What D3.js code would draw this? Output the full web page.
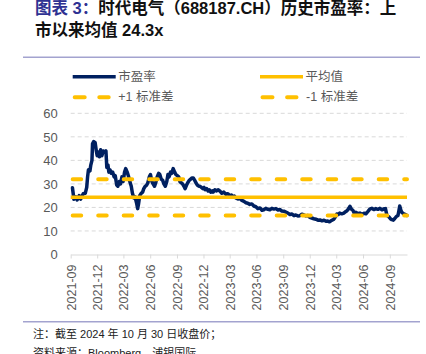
<!DOCTYPE html>
<html>
<head>
<meta charset="utf-8">
<script src="https://cdn.jsdelivr.net/npm/d3@7"></script>
<style>
  body { margin: 0; background: #fff; }
  text { font-family: "Liberation Sans", "Noto Sans CJK SC", sans-serif; }
</style>
</head>
<body>
<div id="chart"></div>
<script>
// 时代电气 历史市盈率
const peDates = [
  "2021-09-07","2021-09-10","2021-09-12","2021-09-19","2021-09-23","2021-09-30","2021-10-05","2021-10-14",
  "2021-10-21","2021-10-26","2021-10-29","2021-11-01","2021-11-06","2021-11-09","2021-11-13","2021-11-15",
  "2021-11-19","2021-11-24","2021-11-28","2021-12-01","2021-12-06","2021-12-09","2021-12-13","2021-12-17",
  "2021-12-22","2021-12-27","2021-12-31","2022-01-03","2022-01-07","2022-01-10","2022-01-14","2022-01-18",
  "2022-01-23","2022-01-28","2022-02-01","2022-02-06","2022-02-10","2022-02-15","2022-02-19","2022-02-24",
  "2022-02-28","2022-03-05","2022-03-09","2022-03-14","2022-03-19","2022-03-23","2022-03-28","2022-04-01",
  "2022-04-06","2022-04-10","2022-04-15","2022-04-19","2022-04-22","2022-04-26","2022-05-01","2022-05-06",
  "2022-05-10","2022-05-15","2022-05-20","2022-05-24","2022-05-29","2022-06-02","2022-06-07","2022-06-11",
  "2022-06-16","2022-06-20","2022-06-25","2022-06-30","2022-07-04","2022-07-09","2022-07-14","2022-07-18",
  "2022-07-23","2022-07-28","2022-08-01","2022-08-05","2022-08-10","2022-08-14","2022-08-19","2022-08-24",
  "2022-08-28","2022-09-02","2022-09-07","2022-09-11","2022-09-15","2022-09-20","2022-09-25","2022-09-29",
  "2022-10-04","2022-10-08","2022-10-13","2022-10-18","2022-10-22","2022-10-27","2022-11-01","2022-11-05",
  "2022-11-10","2022-11-15","2022-11-19","2022-11-24","2022-11-29","2022-12-03","2022-12-07","2022-12-12",
  "2022-12-17","2022-12-21","2022-12-26","2022-12-31","2023-01-03","2023-01-09","2023-01-15","2023-01-20",
  "2023-01-26","2023-02-02","2023-02-09","2023-02-16","2023-02-23","2023-03-02","2023-03-07","2023-03-12",
  "2023-03-17","2023-03-22","2023-03-29","2023-04-05","2023-04-12","2023-04-19","2023-04-26","2023-05-02",
  "2023-05-09","2023-05-16","2023-05-23","2023-05-30","2023-06-06","2023-06-13","2023-06-20","2023-06-26",
  "2023-07-03","2023-07-10","2023-07-17","2023-07-24","2023-07-31","2023-08-07","2023-08-14","2023-08-20",
  "2023-08-27","2023-09-03","2023-09-10","2023-09-17","2023-09-24","2023-10-01","2023-10-08","2023-10-14",
  "2023-10-21","2023-10-28","2023-11-04","2023-11-11","2023-11-18","2023-11-25","2023-12-01","2023-12-08",
  "2023-12-15","2023-12-22","2023-12-29","2024-01-05","2024-01-12","2024-01-19","2024-01-26","2024-02-01",
  "2024-02-07","2024-02-12","2024-02-22","2024-02-27","2024-03-03","2024-03-08","2024-03-13","2024-03-20",
  "2024-03-27","2024-04-02","2024-04-07","2024-04-12","2024-04-17","2024-04-22","2024-04-27","2024-05-02",
  "2024-05-07","2024-05-14","2024-05-21","2024-05-28","2024-06-04","2024-06-11","2024-06-18","2024-06-25",
  "2024-07-01","2024-07-08","2024-07-15","2024-07-22","2024-07-29","2024-08-05","2024-08-12","2024-08-17",
  "2024-08-22","2024-08-29","2024-09-03","2024-09-08","2024-09-13","2024-09-18","2024-09-24","2024-09-29",
  "2024-10-02","2024-10-05","2024-10-09","2024-10-12","2024-10-17","2024-10-23","2024-10-30"
];
const peValues = [
  28.4,25.5,23.5,24.5,23.2,25.0,23.5,25.8,
  26.0,28.5,33.0,36.0,35.5,38.0,40.0,47.0,
  48.0,47.5,44.0,42.0,43.5,41.5,44.5,42.0,
  44.0,43.5,44.0,37.0,38.0,35.0,36.0,34.5,
  35.0,33.0,33.5,29.5,29.0,31.0,30.0,33.0,
  31.0,35.0,36.5,35.0,33.0,31.0,29.0,26.0,
  24.0,24.5,22.0,19.5,21.5,25.0,26.0,26.5,
  28.0,29.0,29.5,30.5,33.0,34.0,31.0,30.0,
  29.0,30.5,33.0,34.5,34.0,32.0,31.5,30.0,
  29.0,31.0,34.0,33.0,35.0,34.5,36.5,35.0,
  34.0,33.5,33.0,31.0,30.5,30.0,29.0,28.0,
  29.5,30.5,31.5,32.0,32.5,32.5,31.5,30.5,
  29.5,29.0,29.0,28.5,28.0,28.5,27.5,28.0,
  27.0,27.5,26.5,27.0,26.5,27.5,27.0,27.5,
  27.0,26.0,26.5,25.6,25.8,25.0,25.3,24.6,
  24.8,24.0,23.6,23.8,23.0,22.6,22.0,21.8,
  21.3,21.5,20.6,20.3,19.5,19.8,18.8,19.0,
  19.6,19.2,19.0,19.6,19.3,19.5,18.9,19.1,
  18.5,18.4,18.0,17.6,17.0,17.2,16.5,16.8,
  16.4,16.5,17.1,16.8,16.4,16.6,15.8,15.5,
  15.2,15.0,14.6,14.7,14.3,14.6,14.1,14.2,
  13.9,14.3,15.0,16.0,17.2,17.0,17.6,17.3,
  17.6,18.2,18.6,19.4,20.5,19.3,18.8,17.6,
  17.9,17.4,17.6,17.1,17.5,17.3,18.3,19.4,
  19.6,19.1,19.5,19.2,19.6,19.0,19.4,19.5,
  16.6,16.0,15.2,14.8,14.6,15.3,16.2,16.6,
  18.5,20.6,18.8,18.0,17.4,17.1,16.6
];

const meanPE = 24.3;
const plusOneSD = 32.0;
const minusOneSD = 16.6;

const xTickLabels = ["2021-09","2021-12","2022-03","2022-06","2022-09","2022-12",
  "2023-03","2023-06","2023-09","2023-12","2024-03","2024-06","2024-09"];
const yTicks = [0, 10, 20, 30, 40, 50, 60];

const titleLines = ["时代电气（688187.CH）历史市盈率：上", "市以来均值 24.3x"];
const titleTag = "图表 3：";
const notes = ["注：截至 2024 年 10 月 30 日收盘价；", "资料来源：Bloomberg，浦银国际"];

const navy = "#002060", gold = "#FFC000", grey = "#595959", lav = "#a3a3cf";

const width = 426, height = 354;
const margin = { top: 113.3, right: 19, bottom: 99.5, left: 70.7 };

const svg = d3.select("#chart")
  .append("svg")
  .attr("width", width)
  .attr("height", height)
  .attr("viewBox", [0, 0, width, height]);

const parse = d3.timeParse("%Y-%m-%d");
const data = peDates.map((d, i) => ({ date: parse(d), pe: peValues[i] }));

const x = d3.scaleTime()
  .domain([new Date(2021, 8, 1), new Date(2024, 9, 30)])
  .range([margin.left, width - margin.right]);

const y = d3.scaleLinear()
  .domain([0, 60])
  .range([height - margin.bottom, margin.top]);

// title
const title = svg.append("text")
  .attr("x", 35).attr("y", 14)
  .attr("font-size", 16.5).attr("font-weight", "bold");
title.append("tspan").attr("fill", "#2e3192").text(titleTag);
title.append("tspan").attr("fill", "#111").text(titleLines[0]);

svg.append("text")
  .attr("x", 35).attr("y", 36)
  .attr("font-size", 16.5).attr("font-weight", "bold")
  .attr("fill", "#111")
  .text(titleLines[1]);

// separators
svg.append("line").attr("x1", 23).attr("x2", 420).attr("y1", 57.3).attr("y2", 57.3)
  .attr("stroke", lav).attr("stroke-width", 1.5);
svg.append("line").attr("x1", 23).attr("x2", 420).attr("y1", 321.7).attr("y2", 321.7)
  .attr("stroke", lav).attr("stroke-width", 1.5);

// gridlines
svg.append("g")
  .selectAll("line")
  .data(yTicks.filter(d => d > 0))
  .join("line")
  .attr("x1", margin.left).attr("x2", width - margin.right)
  .attr("y1", d => y(d)).attr("y2", d => y(d))
  .attr("stroke", "#d9d9d9").attr("stroke-dasharray", "4,3");

// y axis
svg.append("g")
  .attr("transform", `translate(${margin.left},0)`)
  .call(d3.axisLeft(y).tickValues(yTicks).tickSize(0).tickPadding(13))
  .call(g => g.select(".domain").remove())
  .call(g => g.selectAll("text")
    .attr("font-size", 13).attr("fill", grey)
    .attr("font-family", "Liberation Sans, sans-serif"));

// x axis
const tickDates = xTickLabels.map(d => d3.timeParse("%Y-%m")(d));
svg.append("g")
  .attr("transform", `translate(0,${y(0)})`)
  .call(d3.axisBottom(x).tickValues(tickDates).tickSize(4).tickSizeOuter(0)
    .tickFormat(d3.timeFormat("%Y-%m")))
  .call(g => g.selectAll("line, path").attr("stroke", "#d9d9d9"))
  .call(g => g.selectAll("text")
    .attr("transform", "rotate(-90)")
    .attr("text-anchor", "end")
    .attr("x", -10).attr("y", 0).attr("dy", "0.35em")
    .attr("font-size", 12.5).attr("fill", grey)
    .attr("font-family", "Liberation Sans, sans-serif"));

// PE line
svg.append("path")
  .datum(data)
  .attr("fill", "none")
  .attr("stroke", navy)
  .attr("stroke-width", 3.5)
  .attr("stroke-linejoin", "round")
  .attr("stroke-linecap", "round")
  .attr("d", d3.line().x(d => x(d.date)).y(d => y(d.pe)));

// mean & +/- 1 sd
const [x0, x1] = x.range();
svg.append("line")
  .attr("x1", x0).attr("x2", x1)
  .attr("y1", y(meanPE)).attr("y2", y(meanPE))
  .attr("stroke", gold).attr("stroke-width", 3.5);

svg.append("g")
  .selectAll("line")
  .data([plusOneSD, minusOneSD])
  .join("line")
  .attr("x1", x0 + 2).attr("x2", x1)
  .attr("y1", d => y(d)).attr("y2", d => y(d))
  .attr("stroke", gold).attr("stroke-width", 4)
  .attr("stroke-linecap", "round")
  .attr("stroke-dasharray", "8.5,17");

// legend
const legend = [
  { label: "市盈率", x: 72.7, y: 76.7, color: navy, dash: null },
  { label: "平均值", x: 260, y: 76.7, color: gold, dash: null },
  { label: "+1 标准差", x: 72.7, y: 97.3, color: gold, dash: "10,14.6" },
  { label: "-1 标准差", x: 260.5, y: 97.3, color: gold, dash: "10,14.6" }
];
const lg = svg.append("g").selectAll("g").data(legend).join("g");
lg.append("line")
  .attr("x1", d => d.dash ? d.x + 2 : d.x)
  .attr("x2", d => d.dash ? d.x + 36 : d.x + 43)
  .attr("y1", d => d.y).attr("y2", d => d.y)
  .attr("stroke", d => d.color)
  .attr("stroke-width", d => d.dash ? 4 : 3.5)
  .attr("stroke-linecap", d => d.dash ? "round" : "butt")
  .attr("stroke-dasharray", d => d.dash);
lg.append("text")
  .attr("x", d => d.x + (d.dash ? 45.6 : 45.5))
  .attr("y", d => d.y)
  .attr("dominant-baseline", "central")
  .attr("font-size", 12.5)
  .attr("fill", grey)
  .text(d => d.label);

// notes
svg.append("g")
  .selectAll("text")
  .data(notes)
  .join("text")
  .attr("x", 33)
  .attr("y", (d, i) => 337.5 + i * 19)
  .attr("font-size", 11)
  .attr("fill", "#222")
  .text(d => d);
</script>
</body>
</html>
